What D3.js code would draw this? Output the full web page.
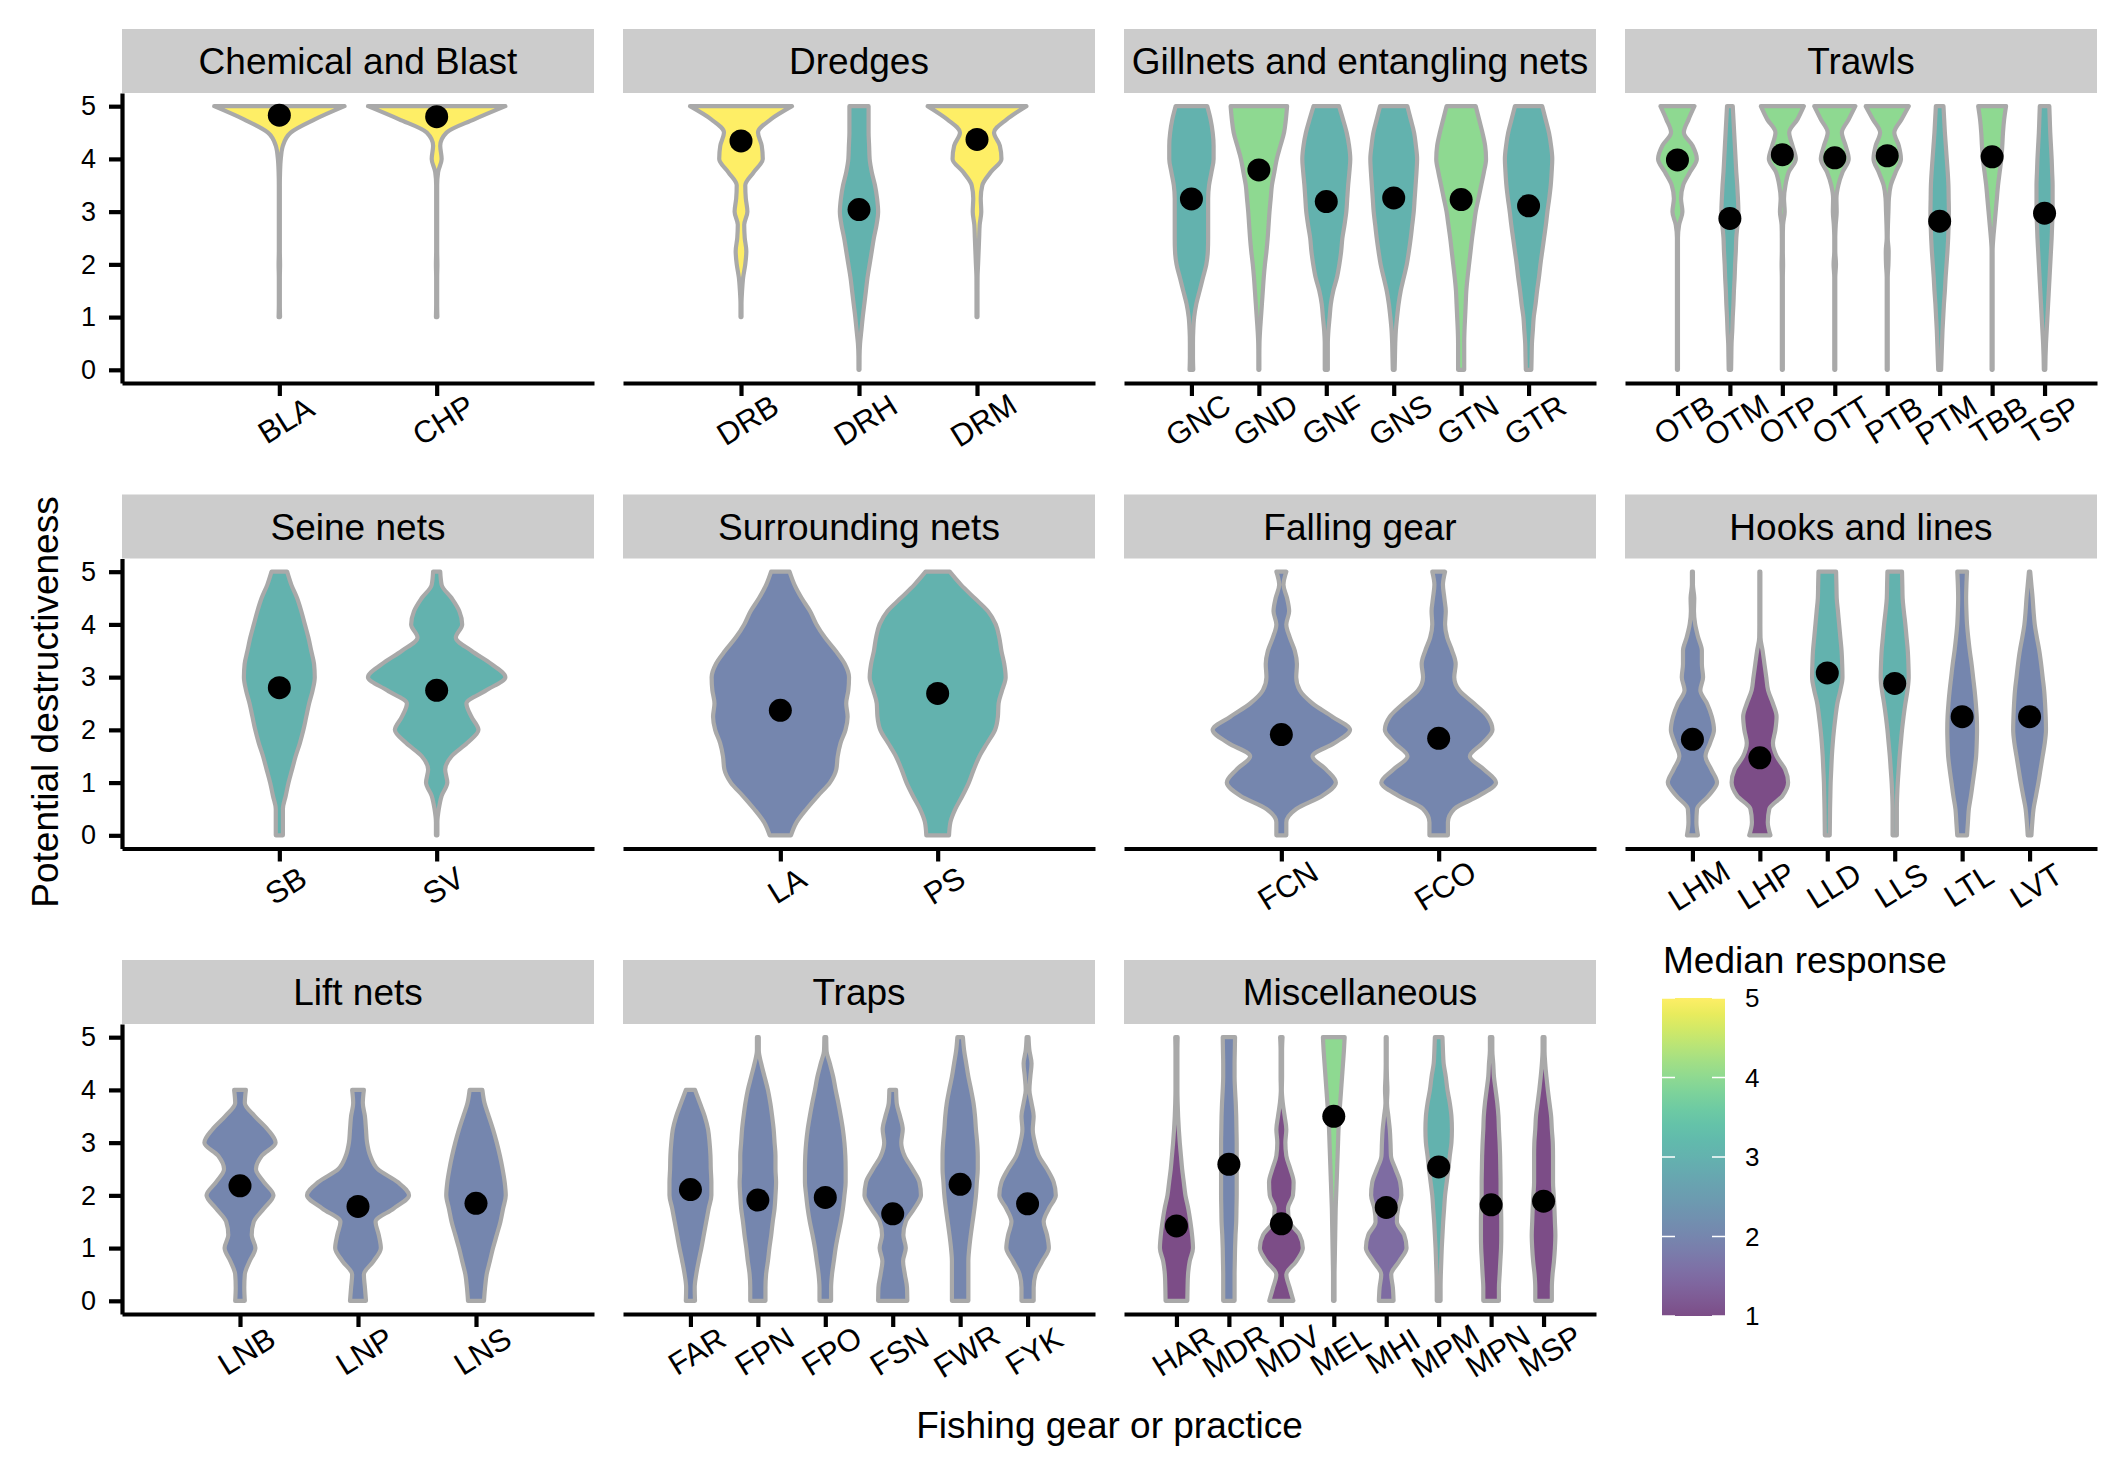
<!DOCTYPE html>
<html><head><meta charset="utf-8">
<script src="https://cdn.jsdelivr.net/npm/d3@7"></script>
<style>
body{margin:0;background:#fff}
svg{display:block}
text{font-family:"Liberation Sans",Arial,Helvetica,sans-serif}
</style>
</head><body>
<svg id="chart" width="2125" height="1476"></svg>
<script>
// ---------------- DATA ----------------
const facetNames = ["Chemical and Blast","Dredges","Gillnets and entangling nets","Trawls",
  "Seine nets","Surrounding nets","Falling gear","Hooks and lines",
  "Lift nets","Traps","Miscellaneous"];

const gearCodes = ["BLA","CHP", "DRB","DRH","DRM",
  "GNC","GND","GNF","GNS","GTN","GTR",
  "OTB","OTM","OTP","OTT","PTB","PTM","TBB","TSP",
  "SB","SV", "LA","PS", "FCN","FCO",
  "LHM","LHP","LLD","LLS","LTL","LVT",
  "LNB","LNP","LNS",
  "FAR","FPN","FPO","FSN","FWR","FYK",
  "HAR","MDR","MDV","MEL","MHI","MPM","MPN","MSP"];

const gearFacet = [0,0, 1,1,1, 2,2,2,2,2,2, 3,3,3,3,3,3,3,3,
  4,4, 5,5, 6,6, 7,7,7,7,7,7, 8,8,8, 9,9,9,9,9,9, 10,10,10,10,10,10,10,10];

// mean response (black dot)
const meanResponse = [4.83,4.80, 4.34,3.04,4.37,
  3.24,3.79,3.19,3.26,3.23,3.11,
  3.98,2.87,4.08,4.02,4.06,2.82,4.04,2.97,
  2.80,2.75, 2.37,2.69, 1.91,1.84,
  1.82,1.47,3.08,2.88,2.25,2.25,
  2.18,1.79,1.85,
  2.11,1.91,1.96,1.65,2.21,1.84,
  1.42,2.59,1.46,3.50,1.77,2.54,1.82,1.89];

// median response (fill colour)
const medianResponse = [5,5, 5,3,5,
  3,4,3,3,4,3,
  4,3,4,4,4,3,4,3,
  3,3, 2,3, 2,2,
  2,1,3,3,2,2,
  2,2,2,
  2,2,2,2,2,2,
  1,2,1,4,1.5,3,1,1];

// response levels at which the violin widths were read
const yLevels = [0,0.25,0.5,0.75,1,1.25,1.5,1.75,2,2.25,2.5,2.75,3,3.25,3.5,3.75,4,4.25,4.5,4.75,5];

// violin width (fraction of the full violin width) at each level; null = outside data range
const N = null;
const violinWidths = [
 /*BLA*/[N,N,N,N,0.04,0.035,0.035,0.035,0.04,0.035,0.035,0.035,0.035,0.035,0.035,0.04,0.05,0.08,0.19,0.53,0.95],
 /*CHP*/[N,N,N,N,0.04,0.035,0.035,0.035,0.04,0.035,0.035,0.035,0.035,0.035,0.035,0.05,0.10,0.08,0.17,0.56,1.0],
 /*DRB*/[N,N,N,N,0.04,0.04,0.06,0.08,0.12,0.14,0.11,0.10,0.16,0.13,0.12,0.28,0.45,0.43,0.36,0.60,1.0],
 /*DRH*/[0.04,0.05,0.06,0.085,0.11,0.14,0.17,0.2,0.24,0.28,0.32,0.37,0.40,0.38,0.34,0.28,0.24,0.23,0.22,0.22,0.22],
 /*DRM*/[N,N,N,N,0.04,0.04,0.04,0.05,0.06,0.07,0.08,0.09,0.12,0.11,0.14,0.30,0.50,0.47,0.36,0.60,0.97],
 /*GNC*/[0.13,0.12,0.12,0.13,0.16,0.23,0.34,0.45,0.56,0.61,0.62,0.62,0.62,0.62,0.65,0.73,0.80,0.80,0.77,0.70,0.59],
 /*GND*/[0.07,0.08,0.09,0.11,0.14,0.17,0.2,0.23,0.27,0.32,0.36,0.39,0.42,0.46,0.5,0.58,0.66,0.78,0.9,0.96,1.0],
 /*GNF*/[0.12,0.12,0.12,0.14,0.18,0.22,0.3,0.42,0.5,0.56,0.6,0.67,0.73,0.76,0.79,0.83,0.86,0.82,0.74,0.62,0.49],
 /*GNS*/[0.1,0.11,0.12,0.14,0.18,0.23,0.3,0.4,0.5,0.57,0.63,0.68,0.73,0.76,0.79,0.82,0.84,0.8,0.74,0.63,0.52],
 /*GTN*/[0.17,0.17,0.17,0.18,0.2,0.22,0.24,0.28,0.33,0.38,0.43,0.49,0.55,0.64,0.73,0.82,0.89,0.86,0.77,0.66,0.55],
 /*GTR*/[0.16,0.17,0.18,0.21,0.24,0.3,0.35,0.41,0.46,0.52,0.58,0.64,0.69,0.75,0.8,0.83,0.85,0.81,0.74,0.63,0.52],
 /*OTB*/[0.04,0.04,0.04,0.04,0.045,0.045,0.045,0.05,0.05,0.06,0.09,0.16,0.30,0.24,0.33,0.62,0.91,0.73,0.36,0.56,0.81],
 /*OTM*/[0.14,0.15,0.16,0.19,0.21,0.24,0.26,0.29,0.31,0.34,0.36,0.41,0.45,0.43,0.4,0.36,0.33,0.3,0.27,0.24,0.21],
 /*OTP*/[0.04,0.04,0.04,0.045,0.05,0.05,0.05,0.08,0.12,0.1,0.08,0.12,0.19,0.16,0.22,0.36,0.66,0.52,0.38,0.73,1.0],
 /*OTT*/[0.04,0.04,0.04,0.045,0.05,0.05,0.05,0.08,0.14,0.1,0.1,0.13,0.17,0.16,0.24,0.42,0.68,0.55,0.39,0.68,0.96],
 /*PTB*/[0.04,0.04,0.04,0.04,0.04,0.045,0.05,0.07,0.14,0.15,0.11,0.12,0.14,0.16,0.24,0.45,0.67,0.58,0.39,0.7,1.0],
 /*PTM*/[0.15,0.17,0.19,0.21,0.24,0.27,0.31,0.34,0.38,0.42,0.45,0.47,0.48,0.47,0.46,0.43,0.39,0.35,0.31,0.28,0.25],
 /*TBB*/[0.04,0.04,0.04,0.045,0.05,0.055,0.06,0.07,0.09,0.11,0.14,0.19,0.24,0.29,0.34,0.41,0.48,0.52,0.55,0.6,0.68],
 /*TSP*/[0.12,0.13,0.15,0.18,0.21,0.24,0.27,0.3,0.33,0.36,0.39,0.41,0.43,0.43,0.43,0.41,0.39,0.36,0.33,0.31,0.29],
 /*SB */[0.08,0.08,0.08,0.12,0.16,0.21,0.26,0.32,0.37,0.41,0.45,0.5,0.53,0.52,0.48,0.44,0.39,0.34,0.28,0.2,0.14],
 /*SV */[0.04,0.04,0.06,0.1,0.18,0.15,0.24,0.46,0.62,0.52,0.45,0.73,1.0,0.8,0.52,0.3,0.39,0.35,0.24,0.1,0.08],
 /*LA */[0.18,0.26,0.4,0.56,0.73,0.82,0.84,0.88,0.95,0.98,0.96,0.99,1.0,0.94,0.81,0.66,0.54,0.45,0.33,0.23,0.16],
 /*PS */[0.19,0.21,0.28,0.38,0.47,0.54,0.62,0.73,0.84,0.88,0.89,0.94,0.99,0.97,0.93,0.9,0.85,0.74,0.55,0.36,0.2],
 /*FCN*/[0.1,0.1,0.24,0.61,0.8,0.66,0.47,0.78,1.0,0.75,0.47,0.29,0.24,0.25,0.22,0.15,0.1,0.14,0.11,0.06,0.1],
 /*FCO*/[0.16,0.16,0.25,0.6,0.84,0.67,0.47,0.65,0.79,0.72,0.53,0.32,0.25,0.27,0.22,0.15,0.12,0.13,0.11,0.09,0.12],
 /*LHM*/[0.25,0.2,0.22,0.6,0.88,0.69,0.5,0.65,0.78,0.71,0.55,0.33,0.42,0.38,0.38,0.26,0.16,0.12,0.13,0.06,0.07],
 /*LHP*/[0.42,0.33,0.38,0.82,1.0,0.9,0.62,0.5,0.58,0.62,0.5,0.34,0.28,0.22,0.16,0.09,0.05,0.04,0.04,0.04,0.08],
 /*LLD*/[0.15,0.155,0.16,0.17,0.18,0.2,0.22,0.25,0.29,0.34,0.4,0.5,0.57,0.56,0.54,0.5,0.46,0.42,0.38,0.37,0.36],
 /*LLS*/[0.14,0.14,0.14,0.15,0.17,0.2,0.23,0.27,0.31,0.36,0.42,0.49,0.53,0.52,0.5,0.46,0.42,0.37,0.33,0.32,0.31],
 /*LTL*/[0.23,0.26,0.29,0.36,0.42,0.48,0.53,0.55,0.56,0.55,0.52,0.48,0.43,0.38,0.32,0.27,0.23,0.21,0.2,0.21,0.23],
 /*LVT*/[0.13,0.16,0.2,0.28,0.36,0.43,0.5,0.57,0.61,0.6,0.58,0.55,0.5,0.45,0.39,0.31,0.24,0.2,0.17,0.13,0.09],
 /*LNB*/[0.13,0.12,0.13,0.22,0.33,0.26,0.3,0.49,0.67,0.49,0.34,0.45,0.71,0.56,0.32,0.13,0.15,N,N,N,N],
 /*LNP*/[0.19,0.17,0.15,0.33,0.47,0.43,0.37,0.71,1.0,0.79,0.41,0.27,0.21,0.19,0.17,0.13,0.15,N,N,N,N],
 /*LNS*/[0.19,0.21,0.24,0.3,0.36,0.43,0.5,0.55,0.6,0.58,0.54,0.49,0.43,0.36,0.28,0.2,0.16,N,N,N,N],
 /*FAR*/[0.22,0.21,0.26,0.34,0.43,0.51,0.59,0.67,0.76,0.76,0.74,0.73,0.7,0.65,0.54,0.38,0.22,N,N,N,N],
 /*FPN*/[0.32,0.32,0.34,0.4,0.45,0.51,0.56,0.62,0.65,0.67,0.65,0.65,0.62,0.59,0.54,0.48,0.4,0.29,0.18,0.1,0.1],
 /*FPO*/[0.26,0.26,0.29,0.35,0.41,0.49,0.58,0.65,0.7,0.74,0.74,0.73,0.7,0.65,0.58,0.5,0.41,0.33,0.22,0.11,0.1],
 /*FSN*/[0.55,0.54,0.47,0.41,0.5,0.42,0.5,0.78,1.0,0.95,0.72,0.46,0.35,0.4,0.31,0.2,0.18,N,N,N,N],
 /*FWR*/[0.34,0.34,0.34,0.34,0.37,0.42,0.48,0.54,0.59,0.62,0.65,0.65,0.63,0.59,0.56,0.51,0.43,0.34,0.27,0.2,0.16],
 /*FYK*/[0.27,0.27,0.33,0.55,0.77,0.71,0.6,0.77,1.0,0.93,0.71,0.44,0.31,0.24,0.27,0.2,0.13,0.16,0.2,0.13,0.1],
 /*HAR*/[0.55,0.56,0.58,0.65,0.79,0.75,0.68,0.59,0.47,0.4,0.33,0.28,0.23,0.19,0.16,0.14,0.13,0.13,0.13,0.13,0.14],
 /*MDR*/[0.33,0.33,0.33,0.34,0.35,0.37,0.4,0.41,0.42,0.42,0.42,0.42,0.42,0.41,0.4,0.38,0.35,0.33,0.33,0.34,0.35],
 /*MDV*/[0.6,0.44,0.3,0.72,1.0,0.86,0.44,0.37,0.58,0.61,0.47,0.3,0.26,0.3,0.23,0.15,0.11,0.12,0.12,0.12,0.14],
 /*MEL*/[0.12,0.12,0.12,0.13,0.14,0.15,0.16,0.17,0.19,0.21,0.23,0.25,0.27,0.29,0.32,0.36,0.4,0.44,0.48,0.52,0.55],
 /*MHI*/[0.4,0.37,0.3,0.64,0.95,0.85,0.54,0.59,0.73,0.68,0.48,0.29,0.27,0.24,0.18,0.12,0.14,0.12,0.1,0.1,0.1],
 /*MPM*/[0.17,0.17,0.18,0.2,0.22,0.25,0.28,0.32,0.36,0.43,0.5,0.56,0.63,0.65,0.63,0.56,0.46,0.39,0.3,0.27,0.25],
 /*MPN*/[0.42,0.42,0.45,0.48,0.51,0.52,0.52,0.51,0.49,0.49,0.48,0.47,0.45,0.42,0.4,0.35,0.28,0.21,0.18,0.14,0.14],
 /*MSP*/[0.44,0.44,0.47,0.53,0.57,0.59,0.57,0.55,0.52,0.49,0.49,0.49,0.48,0.44,0.41,0.34,0.27,0.21,0.16,0.13,0.13]
];

const yTicks = [0,1,2,3,4,5];
const legendTicks = [1,2,3,4,5];
const xTitle = "Fishing gear or practice";
const yTitle = "Potential destructiveness";
const legendTitle = "Median response";

// ---------------- LAYOUT ----------------
const svg = d3.select("#chart");
svg.append("rect").attr("width",2125).attr("height",1476).attr("fill","#fff");
const colX = [122, 623, 1124, 1625], panelW = 472;
const rowTop = [29, 494.5, 960], stripH = 64, panelH = 290;
const strokeW = 4.2, axisW = 4.2, tickLen = 13;
const fillAlpha = 0.7;
const color = m => d3.interpolateViridis((m - 1) / 4);

facetNames.forEach((fname, f) => {
  const r = Math.floor(f / 4), c = f % 4;
  const x0 = colX[c], sTop = rowTop[r], pTop = sTop + stripH, pBot = pTop + panelH;
  const g = svg.append("g");

  // strip
  g.append("rect").attr("x", x0).attr("y", sTop).attr("width", panelW).attr("height", stripH)
    .attr("fill", "#cccccc");
  g.append("text").attr("x", x0 + panelW / 2).attr("y", sTop + stripH / 2 + 13)
    .attr("text-anchor", "middle").attr("font-size", 37).attr("fill", "#000").text(fname);

  const idx = gearCodes.map((d, i) => i).filter(i => gearFacet[i] === f);
  const codes = idx.map(i => gearCodes[i]);
  const x = d3.scalePoint().domain(codes).range([x0, x0 + panelW]).padding(1);
  const y = d3.scaleLinear().domain([-0.25, 5.25]).range([pBot, pTop]);
  const fullW = 0.9 * x.step();
  const hw = w => Math.max(0.5, w * fullW / 2 - strokeW / 2);

  // violins
  idx.forEach(i => {
    const cx = x(gearCodes[i]);
    const pts = yLevels.map((v, k) => ({v, w: violinWidths[i][k]})).filter(d => d.w !== null);
    const area = d3.area()
      .y(d => y(d.v))
      .x0(d => cx - hw(d.w))
      .x1(d => cx + hw(d.w))
      .curve(d3.curveMonotoneY);
    g.append("path").attr("d", area(pts))
      .attr("fill", color(medianResponse[i])).attr("fill-opacity", fillAlpha)
      .attr("stroke", "#a9a9a9").attr("stroke-width", strokeW).attr("stroke-linejoin", "round");
  });
  // mean dots
  idx.forEach(i => {
    g.append("circle").attr("cx", x(gearCodes[i])).attr("cy", y(meanResponse[i]))
      .attr("r", 11.5).attr("fill", "#000");
  });

  // x axis
  const xa = g.append("g").attr("transform", `translate(0,${pBot})`)
    .call(d3.axisBottom(x).tickSize(tickLen).tickSizeOuter(0));
  xa.select(".domain").attr("stroke", "#000").attr("stroke-width", axisW);
  xa.selectAll(".tick line").attr("stroke", "#000").attr("stroke-width", axisW);
  xa.selectAll(".tick text")
    .attr("x", 0).attr("y", 0).attr("dy", "0.35em")
    .attr("transform", "translate(6,37) rotate(-32)")
    .attr("text-anchor", "middle").attr("font-size", 31).attr("fill", "#000")
    .attr("font-family", null);

  // y axis (first column only)
  if (c === 0) {
    const ya = g.append("g").attr("transform", `translate(${x0},0)`)
      .call(d3.axisLeft(y).tickValues(yTicks).tickFormat(d3.format("d"))
        .tickSize(tickLen).tickSizeOuter(0).tickPadding(13));
    ya.select(".domain").attr("stroke", "#000").attr("stroke-width", axisW);
    ya.selectAll(".tick line").attr("stroke", "#000").attr("stroke-width", axisW);
    ya.selectAll(".tick text").attr("font-size", 27).attr("fill", "#000").attr("font-family", null);
  }
});

// axis titles
svg.append("text").attr("x", 1109.5).attr("y", 1438).attr("text-anchor", "middle")
  .attr("font-size", 37).attr("fill", "#000").text(xTitle);
svg.append("text").attr("transform", "translate(58,702) rotate(-90)").attr("text-anchor", "middle")
  .attr("font-size", 37).attr("fill", "#000").text(yTitle);

// legend (colour bar)
const lgX = 1662, lgW = 63, lgTop = 998, lgBot = 1316;
svg.append("text").attr("x", 1663).attr("y", 973).attr("font-size", 37).attr("fill", "#000").text(legendTitle);
const ly = d3.scaleLinear().domain([1, 5]).range([lgBot, lgTop]);
const grad = svg.append("defs").append("linearGradient").attr("id", "vir")
  .attr("x1", 0).attr("y1", 1).attr("x2", 0).attr("y2", 0);
d3.range(0, 1.0001, 0.05).forEach(t => {
  grad.append("stop").attr("offset", t).attr("stop-color", d3.interpolateViridis(t)).attr("stop-opacity", fillAlpha);
});
svg.append("rect").attr("x", lgX).attr("y", lgTop).attr("width", lgW).attr("height", lgBot - lgTop)
  .attr("fill", "url(#vir)");
legendTicks.forEach(v => {
  const yy = ly(v);
  svg.append("line").attr("x1", lgX).attr("x2", lgX + 13).attr("y1", yy).attr("y2", yy)
    .attr("stroke", "#fff").attr("stroke-width", 1.5);
  svg.append("line").attr("x1", lgX + lgW - 13).attr("x2", lgX + lgW).attr("y1", yy).attr("y2", yy)
    .attr("stroke", "#fff").attr("stroke-width", 1.5);
  svg.append("text").attr("x", 1745).attr("y", yy).attr("dy", "0.35em")
    .attr("font-size", 26).attr("fill", "#000").text(v);
});
</script>
</body></html>
